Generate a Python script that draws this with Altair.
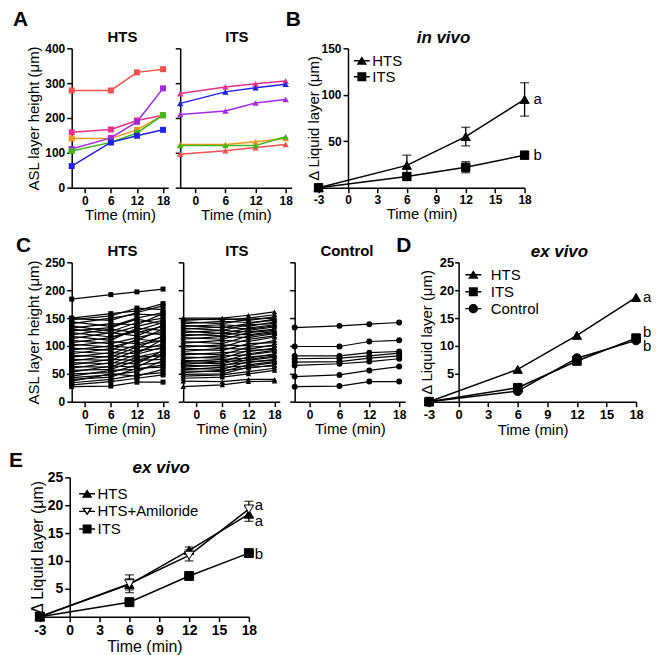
import altair as alt
import pandas as pd

FONT = "Liberation Sans"
TIMES = [-3, 6, 12, 18]
X_TICKS_SMALL = [0, 6, 12, 18]
X_TICKS_FULL = [-3, 0, 3, 6, 9, 12, 15, 18]
LETTERS = ["A", "B", "C", "D", "E"]
A_GROUPS = ["HTS", "ITS"]
C_GROUPS = ["HTS", "ITS", "Control"]
SETTINGS = ["in vivo", "ex vivo", "ex vivo"]

# ---------- Panel A : individual animals (in vivo) ----------
A_NAMES = ["red", "pink", "orange", "purple", "green", "blue"]
A_COLORS = ["#F0504E", "#E8308A", "#F7941D", "#A42BE0", "#3CB81D", "#2020E6"]
A_HTS = [
    [279, 279, 331, 340],
    [159, 167, 193, 208],
    [141, 141, 166, 208],
    [111, 143, 189, 285],
    [105, 130, 157, 208],
    [62, 130, 149, 166],
]
A_ITS = [
    [96, 106, 115, 124],
    [270, 289, 298, 306],
    [124, 124, 132, 141],
    [210, 220, 243, 253],
    [121, 121, 121, 146],
    [242, 275, 287, 297],
]

# ---------- Panel C : individual cultures (ex vivo) ----------
C_HTS = [
    [184, 192, 197, 202], [150, 158, 163, 176], [149, 146, 160, 172], [147, 154, 168, 165],
    [143, 135, 150, 160], [140, 150, 157, 155], [136, 126, 142, 150], [132, 140, 138, 158],
    [130, 122, 135, 146], [127, 133, 148, 139], [124, 116, 128, 142], [120, 130, 124, 135],
    [117, 110, 132, 128], [113, 124, 118, 137], [110, 104, 115, 125], [106, 115, 126, 120],
    [103, 98, 110, 130], [100, 108, 104, 116], [96, 92, 112, 108], [93, 100, 96, 118],
    [90, 86, 102, 110], [86, 95, 90, 104], [83, 80, 98, 100], [80, 88, 86, 112],
    [76, 74, 92, 95], [73, 82, 80, 90], [70, 68, 85, 98], [66, 76, 74, 86],
    [63, 62, 80, 82], [60, 70, 68, 92], [56, 58, 74, 76], [53, 64, 62, 84],
    [50, 52, 66, 70], [46, 56, 58, 66], [43, 48, 54, 74], [40, 44, 60, 62],
    [37, 50, 46, 58], [34, 40, 48, 52], [30, 36, 42, 48], [27, 28, 35, 35],
]
C_ITS = [
    [150, 150, 155, 161], [148, 147, 150, 156], [146, 149, 146, 152], [143, 140, 148, 150],
    [140, 144, 142, 146], [137, 133, 140, 148], [135, 138, 135, 143], [132, 128, 138, 140],
    [130, 134, 130, 136], [127, 122, 132, 138], [124, 128, 125, 130], [121, 118, 128, 134],
    [118, 123, 120, 126], [115, 112, 124, 128], [112, 117, 115, 122], [108, 104, 118, 124],
    [105, 110, 108, 116], [101, 98, 112, 118], [98, 102, 100, 110], [94, 92, 104, 106],
    [90, 96, 94, 102], [87, 84, 98, 100], [84, 88, 90, 96], [80, 78, 92, 94],
    [77, 82, 84, 90], [74, 72, 86, 92], [72, 76, 78, 86], [70, 68, 80, 84],
    [67, 72, 74, 80], [65, 64, 76, 82], [62, 66, 70, 76], [60, 58, 72, 74],
    [57, 62, 64, 70], [55, 54, 66, 72], [52, 56, 60, 66], [49, 50, 62, 64],
    [46, 48, 54, 60], [42, 44, 50, 56], [37, 36, 40, 40], [27, 30, 36, 37],
]
C_CTRL = [
    [133, 136, 139, 142], [99, 99, 108, 110], [82, 82, 88, 90], [77, 78, 82, 87],
    [71, 72, 78, 82], [65, 68, 72, 77], [45, 48, 56, 63], [27, 28, 36, 36],
]

# ---------- Panel B : in vivo means ----------
B_SERIES = ["HTS", "ITS"]
B_MEAN = [[0, 24, 55, 95], [0, 12, 22, 35]]
B_SEM = [[0, 11, 10, 18], [0, 4, 6, 4]]
B_STATS = ["a", "b"]

# ---------- Panel D : ex vivo means ----------
D_SERIES = ["HTS", "ITS", "Control"]
D_MEAN = [[0, 5.8, 11.9, 18.7], [0, 2.5, 7.3, 11.4], [0, 1.9, 7.8, 11.0]]
D_SEM = [[0, 0, 0, 0], [0, 0, 0, 0], [0, 0, 0, 0]]
D_STATS = ["a", "b", "b"]

# ---------- Panel E : ex vivo means with amiloride ----------
E_SERIES = ["HTS", "HTS+Amiloride", "ITS"]
E_MEAN = [[0, 5.8, 11.9, 18.4], [0, 5.9, 11.0, 19.3], [0, 2.6, 7.3, 11.4]]
E_SEM = [[0, 1.0, 0.6, 1.3], [0, 1.6, 1.0, 1.4], [0, 0.2, 0.2, 0.2]]
E_STATS = ["a", "a", "b"]

# legend symbols: marker with a line through it (unit box, 1 unit = 5 px)
LINE = "M-1.6,-0.14H1.6V0.14H-1.6Z "
P_TRI_UP = LINE + "M0,-0.9L1.05,0.8H-1.05Z"
P_SQUARE = LINE + "M-0.9,-0.9H0.9V0.9H-0.9Z"
P_CIRCLE = LINE + "M0.95,0A0.95,0.95,0,1,1,-0.95,0A0.95,0.95,0,1,1,0.95,0Z"
P_TRI_DOWN_OPEN = ("M-1.6,-0.14H-0.45V0.14H-1.6Z M0.45,-0.14H1.6V0.14H0.45Z "
                   "M0,0.85L-1.05,-0.75L1.05,-0.75Z M0,0.304L0.495,-0.45L-0.495,-0.45Z")


def to_long(rows, names):
    recs = []
    for name, vals in zip(names, rows):
        for t, v in zip(TIMES, vals):
            recs.append({"s": name, "t": t, "v": v})
    return pd.DataFrame(recs)


def letter_mark(text, x, y):
    return alt.Chart(pd.DataFrame({"L": [text]})).mark_text(
        align="left", baseline="top", font=FONT, fontSize=21, fontWeight="bold", color="black"
    ).encode(text="L:N", x=alt.value(x), y=alt.value(y))


def title_mark(text, x, y, size, italic=False):
    return alt.Chart(pd.DataFrame({"T": [text]})).mark_text(
        align="center", baseline="alphabetic", font=FONT, fontSize=size, fontWeight="bold",
        fontStyle="italic" if italic else "normal", color="black"
    ).encode(text="T:N", x=alt.value(x), y=alt.value(y))


def anchor_cell():
    # invisible 1x1 cell that pins every row to the left page edge
    return alt.Chart(pd.DataFrame({"z": [0]})).mark_point(size=0, opacity=0).encode(
        x=alt.value(0), y=alt.value(0)).properties(width=1, height=1)


def sample_panel(rows, prefix, width, ymax, ystep, title, title_dx, title_y, shape, size, line_w,
                 colors=None, ytitle=None, letters=()):
    names = A_NAMES if colors else [f"{prefix}{i}" for i in range(len(rows))]
    df = to_long(rows, names)
    x = alt.X("t:Q", scale=alt.Scale(domain=[-3, 19.2], nice=False, zero=False),
              axis=alt.Axis(values=X_TICKS_SMALL, title="Time (min)", labelPadding=3, titlePadding=1))
    yticks = list(range(0, ymax + 1, ystep))
    if ytitle:
        yaxis = alt.Axis(values=yticks, title=ytitle, labelPadding=2, titlePadding=3)
    else:
        yaxis = alt.Axis(values=yticks, labels=False, title=None)
    y = alt.Y("v:Q", scale=alt.Scale(domain=[0, ymax], nice=False), axis=yaxis)
    if colors:
        col = alt.Color("s:N", scale=alt.Scale(domain=names, range=colors), legend=None)
    else:
        col = alt.value("black")
    base = alt.Chart(df)
    lines = base.mark_line(strokeWidth=line_w).encode(x=x, y=y, detail="s:N", color=col)
    pts = base.mark_point(shape=shape, filled=True, size=size, opacity=1).encode(
        x=x, y=y, color=col, detail="s:N")
    layers = [lines, pts, title_mark(title, width / 2 + title_dx, title_y, 15)]
    layers += [letter_mark(*l) for l in letters]
    return alt.layer(*layers).properties(width=width, height=140)


def group_panel(series, means, sems, shapes, fills, sizes, leg_paths, leg_field, stats, stat_dys,
                stat_dx, width, ymax, yticks, title, title_dx, title_y, leg_x, leg_y, row_pad,
                label_off, lab_fs, tit_fs, ytick, ylab_pad, ytit_pad, letters=()):
    recs = []
    for s, m, e in zip(series, means, sems):
        for t, v, ee in zip(TIMES, m, e):
            recs.append({"s": s, "t": t, "v": v, "lo": v - ee, "hi": v + ee, "e": ee})
    df = pd.DataFrame(recs)
    xs = alt.Scale(domain=[-3, 18], nice=False, zero=False)
    ys = alt.Scale(domain=[0, ymax], nice=False)
    xaxis = alt.Axis(values=X_TICKS_FULL, title="Time (min)", labelFontSize=lab_fs,
                     titleFontSize=tit_fs, labelPadding=2, titlePadding=1,
                     labelExpr="'' + datum.value")
    yaxis = alt.Axis(values=yticks, title="Δ Liquid layer (μm)", offset=-width * 3 / 21,
                     tickSize=ytick, labelFontSize=lab_fs, titleFontSize=tit_fs,
                     labelPadding=ylab_pad, titlePadding=ytit_pad)
    x = alt.X("t:Q", scale=xs, axis=xaxis)

    def yenc(field):
        return alt.Y(f"{field}:Q", scale=ys, axis=yaxis)

    layers = [alt.Chart(df).mark_line(color="black", strokeWidth=1.5).encode(
        x=x, y=yenc("v"), detail="s:N")]
    err = df[df["e"] > 0]
    if len(err):
        ec = alt.Chart(err)
        layers.append(ec.mark_rule(color="black", strokeWidth=1.3).encode(x=x, y=yenc("lo"), y2="hi:Q"))
        layers.append(ec.mark_tick(orient="horizontal", color="black", thickness=1.3, size=9).encode(
            x=x, y=yenc("lo")))
        layers.append(ec.mark_tick(orient="horizontal", color="black", thickness=1.3, size=9).encode(
            x=x, y=yenc("hi")))
    for s, shp, fl, sz in zip(series, shapes, fills, sizes):
        layers.append(alt.Chart(df[df["s"] == s]).mark_point(
            shape=shp, filled=True, fill=fl, stroke="black", strokeWidth=1, size=sz, opacity=1
        ).encode(x=x, y=yenc("v")))
    last = df[df["t"] == 18]
    for s, txt, dy in zip(series, stats, stat_dys):
        layers.append(alt.Chart(last[last["s"] == s].assign(lab=txt)).mark_text(
            align="left", baseline="middle", dx=stat_dx, dy=dy, font=FONT, fontSize=15, color="black"
        ).encode(x=x, y=yenc("v"), text="lab:N"))
    leg = alt.Chart(pd.DataFrame({leg_field: series})).transform_filter("false").mark_point(
        filled=True, color="black", opacity=1
    ).encode(shape=alt.Shape(f"{leg_field}:N", scale=alt.Scale(domain=series, range=leg_paths),
                             legend=alt.Legend(title=None, orient="none", legendX=leg_x, legendY=leg_y,
                                               symbolSize=100, symbolStrokeWidth=0, labelFont=FONT,
                                               labelFontSize=15, labelFontWeight="normal",
                                               labelColor="black", labelOffset=label_off,
                                               rowPadding=row_pad, padding=0, labelLimit=200)))
    layers.append(leg)
    layers.append(title_mark(title, width / 2 + title_dx, title_y, 17, italic=True))
    layers += [letter_mark(*l) for l in letters]
    return alt.layer(*layers).properties(width=width, height=140)


a_hts = sample_panel(A_HTS, "a", 97, 400, 100, A_GROUPS[0], 2.5, -6.5, "square", 36, 1.5,
                     colors=A_COLORS, ytitle="ASL layer height (μm)",
                     letters=[(LETTERS[0], -59, -39)])
a_its = sample_panel(A_ITS, "b", 112, 400, 100, A_GROUPS[1], 1, -6.5, "triangle-up", 42, 1.5,
                     colors=A_COLORS, letters=[(LETTERS[1], 106, -39)])
b_panel = group_panel(B_SERIES, B_MEAN, B_SEM, ["triangle-up", "square"], ["black", "black"], [85, 70],
                      [P_TRI_UP, P_SQUARE], "lgB", B_STATS, [0, 0], 9,
                      207, 150, [50, 100, 150], SETTINGS[0], 22, -5.5, 36, 5, 0, 3,
                      12, 15, 5, 2, 0)

c_hts = sample_panel(C_HTS, "h", 97, 250, 50, C_GROUPS[0], 2.5, -6, "square", 25, 1.2,
                     ytitle="ASL layer height (μm)", letters=[(LETTERS[2], -56, -27)])
c_its = sample_panel(C_ITS, "i", 97, 250, 50, C_GROUPS[1], 5.5, -6, "triangle-up", 30, 1.2)
c_ctrl = sample_panel(C_CTRL, "c", 111, 250, 50, C_GROUPS[2], -3, -6, "circle", 36, 1.2,
                      letters=[(LETTERS[3], 102, -27)])
d_panel = group_panel(D_SERIES, D_MEAN, D_SEM, ["triangle-up", "square", "circle"],
                      ["black", "black", "black"], [85, 75, 80],
                      [P_TRI_UP, P_SQUARE, P_CIRCLE], "lgD", D_STATS, [0, -6, 6], 7,
                      208, 25, [5, 10, 15, 20, 25], SETTINGS[1], 27, -5, 37, 5, 1, 10,
                      13, 15, 4, 1, 5)

e_panel = group_panel(E_SERIES, E_MEAN, E_SEM, ["triangle-up", "triangle-down", "square"],
                      ["black", "white", "black"], [90, 90, 80],
                      [P_TRI_UP, P_TRI_DOWN_OPEN, P_SQUARE], "lgE", E_STATS, [7, -4, 1], 6,
                      210, 25, [5, 10, 15, 20, 25], SETTINGS[2], 17, -4, 40, 9, 1.7, 3,
                      14, 16, 5, 2, 2, letters=[(LETTERS[4], -31, -27)])


def indep(c):
    return c.resolve_scale(shape="independent", color="independent").resolve_legend(
        shape="independent", color="independent")


row1 = indep(alt.hconcat(anchor_cell(), a_hts, a_its, b_panel, spacing=4))
row2 = indep(alt.hconcat(anchor_cell(), c_hts, c_its, c_ctrl, d_panel, spacing=7))
row3 = indep(alt.hconcat(anchor_cell(), e_panel, spacing=0))

chart = indep(alt.vconcat(row1, row2, row3, spacing=13)).properties(
    padding=0
).configure(
    font=FONT
).configure_view(stroke=None).configure_axis(
    grid=False, domainColor="black", domainWidth=1.5, tickColor="black", tickWidth=1.5, tickSize=5,
    labelColor="black", labelFont=FONT, labelFontWeight="bold", labelFontSize=12,
    titleColor="black", titleFont=FONT, titleFontWeight="normal", titleFontSize=15,
    labelFlush=False, labelOverlap=False
)

chart.save("out.html", embed_options={"renderer": "svg", "actions": False})
